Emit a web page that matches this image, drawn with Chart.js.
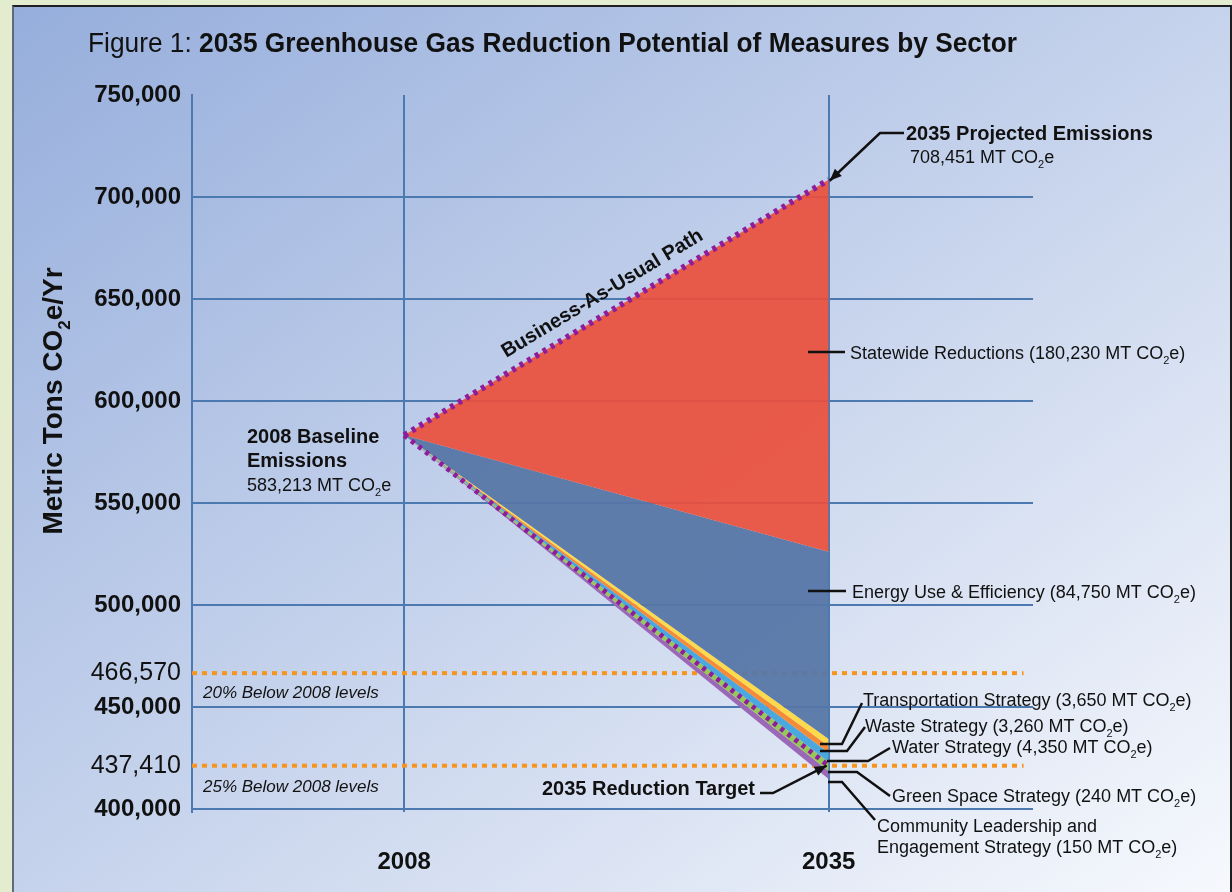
<!DOCTYPE html>
<html><head><meta charset="utf-8">
<script src="https://cdn.jsdelivr.net/npm/chart.js@4.4.1/dist/chart.umd.min.js"></script>
<style>
html,body{margin:0;padding:0;width:1232px;height:892px;overflow:hidden;background:#e4ecd0;}
#panel{position:absolute;left:12px;top:5px;width:1216px;height:900px;border-left:2px solid #5f6b78;border-top:2px solid #1e1e1e;border-right:2px solid #1e1e1e;background:linear-gradient(to bottom right,#96aedc 0%,#c6d3ec 50%,#f7f9fd 100%);}
canvas{position:absolute;left:0;top:0;}
</style></head><body>
<div id="panel"></div>
<canvas id="c" width="1232" height="892"></canvas>
<script>
// ---- data ----
const years = [2008, 2035];
const businessAsUsual    = [583213, 708451];
const afterStatewide     = [583213, 526100];
const afterEnergy        = [583213, 434300];
const afterTransportation= [583213, 430900];
const afterWaste         = [583213, 427500];
const afterWater         = [583213, 423000];
const afterGreenSpace    = [583213, 418600];
const afterCommunity     = [583213, 414700];
const reductionPath      = [583213, 421200];
const targetLevels       = [466570, 421200];
const yTickPositions = [400000, 421200, 450000, 466570, 500000, 550000, 600000, 650000, 700000, 750000];
const yTickLabels    = ['400,000','437,410','450,000','466,570','500,000','550,000','600,000','650,000','700,000','750,000'];
const boldTicks      = [true, false, true, false, true, true, true, true, true, true];
const xTickLabels    = ['2008','2035'];
const bandNames = ['Statewide Reductions','Energy Use & Efficiency','Transportation Strategy','Waste Strategy','Water Strategy','Green Space Strategy','Community Leadership and Engagement Strategy'];

const FONT = "'Liberation Sans', Arial, Helvetica, sans-serif";
Chart.defaults.font.family = FONT;
Chart.defaults.color = '#111';

const X_MIN = 1994.5, X_MAX = 2048, LINE_END = 2047.4;
const pts = arr => years.map((x, i) => ({x, y: arr[i]}));
const bandTops = [businessAsUsual, afterStatewide, afterEnergy, afterTransportation, afterWaste, afterWater, afterGreenSpace];
const bandColors = ['rgba(233,80,60,0.93)','rgba(86,118,166,0.94)','#fdd94c','#f58a38','#4aa8df','#97c759','#9a68b6'];
const GRID = '#4d79b1';
const PURPLE = '#8e1c9c';

const datasets = bandTops.map((arr, i) => ({
  label: bandNames[i], data: pts(arr), fill: '+1', backgroundColor: bandColors[i],
  borderWidth: 0, pointRadius: 0, order: 2
}));
datasets.push({label: 'reduced', data: pts(afterCommunity), fill: false, borderWidth: 0, pointRadius: 0, order: 2});
datasets.push({label: 'Business-As-Usual Path', data: pts(businessAsUsual), fill: false, borderColor: PURPLE, borderWidth: 6, borderDash: [4,5], pointRadius: 0, order: 0});
datasets.push({label: 'Reduction path', data: pts(reductionPath), fill: false, borderColor: PURPLE, borderWidth: 5, borderDash: [4,5], pointRadius: 0, order: 0});
targetLevels.forEach(v => datasets.push({label: 'target', data: [{x: X_MIN, y: v}, {x: LINE_END, y: v}], fill: false, borderColor: '#f7941d', borderWidth: 4, borderDash: [5,5], pointRadius: 0, order: 3}));

function rich(ctx, text, x, y, size, weight, style, align) {
  const parts = text.split('\u2082');
  const base = `${style||'normal'} ${weight||'normal'} ${size}px ${FONT}`;
  const sub = `${style||'normal'} ${weight||'normal'} ${Math.round(size*0.62)}px ${FONT}`;
  let w = 0;
  parts.forEach((p, i) => { ctx.font = base; w += ctx.measureText(p).width; if (i < parts.length-1) { ctx.font = sub; w += ctx.measureText('2').width; } });
  let cx = align === 'right' ? x - w : align === 'center' ? x - w/2 : x;
  ctx.textAlign = 'left'; ctx.textBaseline = 'alphabetic';
  parts.forEach((p, i) => {
    ctx.font = base; ctx.fillText(p, cx, y); cx += ctx.measureText(p).width;
    if (i < parts.length-1) { ctx.font = sub; ctx.fillText('2', cx, y + size*0.28); cx += ctx.measureText('2').width; }
  });
}
function path(ctx, p, head) {
  ctx.beginPath(); ctx.moveTo(p[0][0], p[0][1]);
  for (let i = 1; i < p.length; i++) ctx.lineTo(p[i][0], p[i][1]);
  ctx.stroke();
  if (head) {
    const [x1,y1] = p[p.length-2], [x2,y2] = p[p.length-1];
    const a = Math.atan2(y2-y1, x2-x1), L = 12, W = 5;
    ctx.beginPath(); ctx.moveTo(x2, y2);
    ctx.lineTo(x2 - L*Math.cos(a) + W*Math.sin(a), y2 - L*Math.sin(a) - W*Math.cos(a));
    ctx.lineTo(x2 - L*Math.cos(a) - W*Math.sin(a), y2 - L*Math.sin(a) + W*Math.cos(a));
    ctx.closePath(); ctx.fill();
  }
}

const annotations = {
  id: 'annotations',
  afterDraw(chart) {
    const ctx = chart.ctx, xs = chart.scales.x, ys = chart.scales.y;
    const X08 = xs.getPixelForValue(years[0]), X35 = xs.getPixelForValue(years[1]);
    ctx.save();
    ctx.fillStyle = '#111'; ctx.strokeStyle = '#111'; ctx.lineWidth = 2.5;
    // Title (condensed)
    const t1 = 'Figure 1: ', t2 = '2035 Greenhouse Gas Reduction Potential of Measures by Sector';
    const fN = `normal 28px ${FONT}`, fB = `bold 28px ${FONT}`;
    ctx.font = fN; const w1 = ctx.measureText(t1).width;
    ctx.font = fB; const w2 = ctx.measureText(t2).width;
    const sx = 929 / (w1 + w2);
    ctx.save(); ctx.translate(88, 52); ctx.scale(sx, 1);
    ctx.textAlign = 'left'; ctx.textBaseline = 'alphabetic';
    ctx.font = fN; ctx.fillText(t1, 0, 0);
    ctx.font = fB; ctx.fillText(t2, w1, 0);
    ctx.restore();
    // Y axis title
    ctx.save(); ctx.translate(62, 401); ctx.rotate(-Math.PI/2);
    rich(ctx, 'Metric Tons CO\u2082e/Yr', 0, 0, 28, 'bold', 'normal', 'center');
    ctx.restore();
    // Baseline label
    rich(ctx, '2008 Baseline', 247, 443, 20, 'bold');
    rich(ctx, 'Emissions', 247, 467, 20, 'bold');
    rich(ctx, '583,213 MT CO\u2082e', 247, 491, 18);
    // Business-as-usual text
    const p0 = [X08, ys.getPixelForValue(businessAsUsual[0])], p1 = [X35, ys.getPixelForValue(businessAsUsual[1])];
    const ang = Math.atan2(p1[1]-p0[1], p1[0]-p0[0]);
    const t = 0.49;
    ctx.save(); ctx.translate(p0[0] + (p1[0]-p0[0])*t, p0[1] + (p1[1]-p0[1])*t); ctx.rotate(ang);
    ctx.font = `bold 20px ${FONT}`; ctx.textAlign = 'center'; ctx.textBaseline = 'middle';
    ctx.fillText('Business-As-Usual Path', 0, -19);
    ctx.restore();
    // Projected emissions
    rich(ctx, '2035 Projected Emissions', 906, 140, 20, 'bold');
    rich(ctx, '708,451 MT CO\u2082e', 910, 163, 18);
    path(ctx, [[904,133],[880,133],[X35+1, p1[1]+1]], true);
    // Sector labels
    path(ctx, [[808,352],[845,352]]);
    rich(ctx, 'Statewide Reductions (180,230 MT CO\u2082e)', 850, 359, 18);
    path(ctx, [[808,591],[846,591]]);
    rich(ctx, 'Energy Use & Efficiency (84,750 MT CO\u2082e)', 852, 598, 18);
    path(ctx, [[820,744],[842,744],[862,703]]);
    rich(ctx, 'Transportation Strategy (3,650 MT CO\u2082e)', 863, 706, 18);
    path(ctx, [[820,751],[847,751],[865,727]]);
    rich(ctx, 'Waste Strategy (3,260 MT CO\u2082e)', 865, 732, 18);
    path(ctx, [[827,761],[868,761],[890,748]]);
    rich(ctx, 'Water Strategy (4,350 MT CO\u2082e)', 892, 753, 18);
    path(ctx, [[828,772],[857,772],[890,796]]);
    rich(ctx, 'Green Space Strategy (240 MT CO\u2082e)', 892, 802, 18);
    path(ctx, [[828,782],[842,782],[875,820]]);
    rich(ctx, 'Community Leadership and', 877, 832, 18);
    rich(ctx, 'Engagement Strategy (150 MT CO\u2082e)', 877, 853, 18);
    // Reduction target
    rich(ctx, '2035 Reduction Target', 542, 795, 20, 'bold');
    path(ctx, [[760,793],[773,793],[X35-2, ys.getPixelForValue(reductionPath[1])]], true);
    // target level labels
    rich(ctx, '20% Below 2008 levels', 203, 698, 17, 'normal', 'italic');
    rich(ctx, '25% Below 2008 levels', 203, 792, 17, 'normal', 'italic');
    ctx.restore();
  }
};

new Chart(document.getElementById('c'), {
  type: 'line',
  data: {datasets},
  options: {
    responsive: false, animation: false,
    layout: {padding: {left: 0, top: 95, right: 199, bottom: 0}},
    plugins: {legend: {display: false}, tooltip: {enabled: false}},
    elements: {line: {tension: 0}},
    scales: {
      x: {
        type: 'linear', min: X_MIN, max: X_MAX,
        afterBuildTicks: s => { s.ticks = years.map(v => ({value: v})); },
        ticks: {callback: v => { const i = years.indexOf(v); return i >= 0 ? xTickLabels[i] : ''; },
                font: {size: 24, weight: 'bold'}, color: '#111', padding: 36, maxRotation: 0, autoSkip: false},
        grid: {color: GRID, lineWidth: 2, drawTicks: false},
        border: {display: false},
        afterFit: s => { s.height = 80; }
      },
      y: {
        type: 'linear', min: 398500, max: 750000,
        afterBuildTicks: s => { s.ticks = yTickPositions.map(v => ({value: v})); },
        ticks: {callback: v => { const i = yTickPositions.indexOf(v); return i >= 0 ? yTickLabels[i] : ''; },
                font: c => { const i = yTickPositions.indexOf(c.tick && c.tick.value); return boldTicks[i] === false ? {size: 25, weight: 'normal'} : {size: 24, weight: 'bold'}; },
                color: '#111', padding: 11, autoSkip: false},
        grid: {color: c => { const v = c.tick && c.tick.value; const i = yTickPositions.indexOf(v); return (boldTicks[i] === false || v === 750000) ? 'rgba(0,0,0,0)' : GRID; }, lineWidth: 2, drawTicks: false},
        border: {display: true, color: GRID, width: 2},
        title: {display: false},
        afterFit: s => { s.width = 192; }
      }
    }
  },
  plugins: [annotations]
});
</script>
</body></html>
